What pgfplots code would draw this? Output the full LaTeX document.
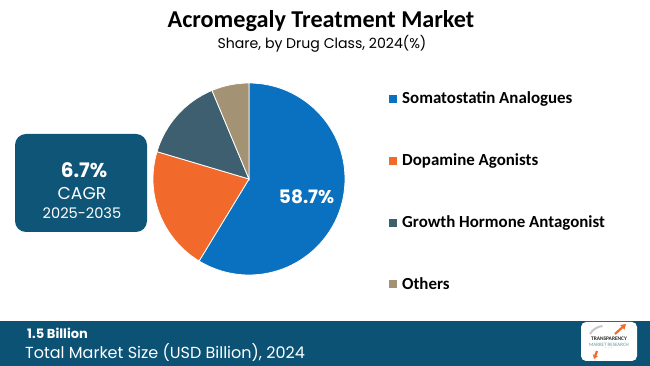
\documentclass[border=0pt]{standalone}
\usepackage{pgfplots}
\pgfplotsset{compat=1.18}
\usepackage{pgfplotstable}
\usepackage{fontspec}
\setmainfont{Carlito}
\newfontfamily\gothic{Poppins}
\usetikzlibrary{arrows.meta}
\definecolor{cA}{HTML}{0A70C0}
\definecolor{cB}{HTML}{F26A2B}
\definecolor{cC}{HTML}{3E5F6F}
\definecolor{cD}{HTML}{A39274}
\definecolor{boxc}{HTML}{0E5577}
\definecolor{footc}{HTML}{0B5275}
\definecolor{logog}{HTML}{5E9E9A}
\pgfplotstableread{
label value
Somatostatin 58.7
Dopamine 20.9
Growth 14.1
Others 6.3
}\piedata
\begin{document}
\begin{tikzpicture}[x=1pt,y=1pt]
\path[use as bounding box, fill=white] (0,0) rectangle (650,366);
% angles from table
\pgfplotstablegetelem{0}{value}\of\piedata \let\vA\pgfplotsretval
\pgfplotstablegetelem{1}{value}\of\piedata \let\vB\pgfplotsretval
\pgfplotstablegetelem{2}{value}\of\piedata \let\vC\pgfplotsretval
\pgfplotstablegetelem{3}{value}\of\piedata \let\vD\pgfplotsretval
\pgfmathsetmacro\aA{90}
\pgfmathsetmacro\aB{\aA-3.6*\vA}
\pgfmathsetmacro\aC{\aB-3.6*\vB}
\pgfmathsetmacro\aD{\aC-3.6*\vC}
\pgfmathsetmacro\aE{\aD-3.6*\vD}
\begin{axis}[
  x=96pt, y=96pt, xmin=-1, xmax=1, ymin=-1, ymax=1,
  hide axis, clip=false,
  at={(249pt,187pt)}, anchor=center]
\fill[cA, draw=white, line width=0.8pt] (axis cs:0,0) -- (axis cs:{cos(\aA)},{sin(\aA)}) arc[start angle=\aA, end angle=\aB, radius=96pt] -- cycle;
\fill[cB, draw=white, line width=0.8pt] (axis cs:0,0) -- (axis cs:{cos(\aB)},{sin(\aB)}) arc[start angle=\aB, end angle=\aC, radius=96pt] -- cycle;
\fill[cC, draw=white, line width=0.8pt] (axis cs:0,0) -- (axis cs:{cos(\aC)},{sin(\aC)}) arc[start angle=\aC, end angle=\aD, radius=96pt] -- cycle;
\fill[cD, draw=white, line width=0.8pt] (axis cs:0,0) -- (axis cs:{cos(\aD)},{sin(\aD)}) arc[start angle=\aD, end angle=\aE, radius=96pt] -- cycle;
\node[text=white, font=\gothic\bfseries\fontsize{18.5}{20}\selectfont] at (axis cs:0.60,-0.19) {\vA\%};
\end{axis}
% titles
\node[font=\bfseries\fontsize{24.2}{27}\selectfont] at (321,345) {Acromegaly Treatment Market};
\node[font=\gothic\fontsize{14.1}{16}\selectfont] at (322,322) {Share, by Drug Class, 2024(\%)};
% CAGR box
\fill[boxc, rounded corners=11pt] (15,134) rectangle (147,232);
\node[text=white, font=\gothic\bfseries\fontsize{20}{22}\selectfont] at (84,196) {6.7\%};
\node[text=white, font=\gothic\fontsize{17.2}{19}\selectfont] at (82,173) {CAGR};
\node[text=white, font=\gothic\fontsize{14.6}{16}\selectfont] at (82,153) {2025-2035};
% legend
\foreach \y/\c/\t in {267/cA/Somatostatin Analogues, 205/cB/Dopamine Agonists, 143/cC/Growth Hormone Antagonist, 82/cD/Others}{
  \fill[\c] (389,\y-4) rectangle (397,\y+4);
  \node[anchor=west, inner sep=0pt, font=\bfseries\fontsize{16.9}{19}\selectfont] at (402,\y) {\t};
}
% footer
\fill[footc] (0,0) rectangle (650,45);
\node[anchor=west, inner sep=0pt, text=white, font=\gothic\bfseries\fontsize{13}{15}\selectfont] at (27,33) {1.5 Billion};
\node[anchor=west, inner sep=0pt, text=white, font=\gothic\fontsize{16}{18}\selectfont] at (25,13) {Total Market Size (USD Billion), 2024};
% logo
\fill[white, rounded corners=5pt] (581,5) rectangle (637,44);
\draw[gray!45, line width=2pt] (590,32) arc[start angle=150, end angle=95, radius=16];
\draw[cB, line width=2.2pt, -{Triangle[length=5pt,width=6pt]}] (615,32) -- (626,42);
\draw[cB, line width=2.2pt, -{Triangle[length=4pt,width=5pt]}] (597,15) -- (594,7);
\node[font=\bfseries\fontsize{5.4}{6}\selectfont, text=black!85, inner sep=0pt] at (609,27) {TRANSPARENCY};
\node[font=\fontsize{5}{6}\selectfont, text=logog, inner sep=0pt] at (609,21.5) {MARKET RESEARCH};
\node[font=\fontsize{2.5}{3}\selectfont, text=gray, inner sep=0pt] at (609,17.5) {\textemdash\,\,\textemdash\,\,\textemdash};
\end{tikzpicture}
\end{document}
